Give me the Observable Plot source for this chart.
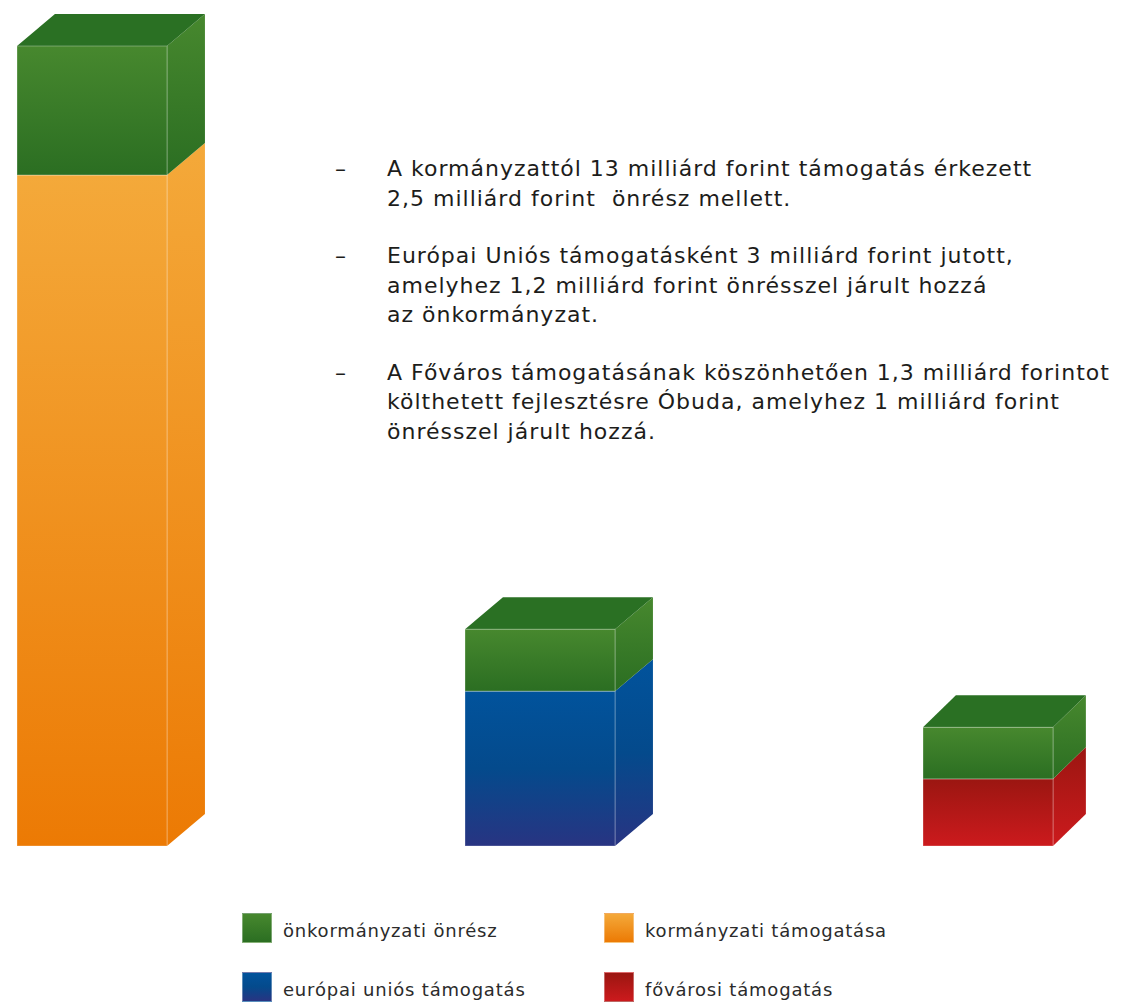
<!DOCTYPE html>
<html>
<head>
<meta charset="utf-8">
<script src="https://cdn.jsdelivr.net/npm/d3@7"></script>
<script src="https://cdn.jsdelivr.net/npm/@observablehq/plot@0.6"></script>
<style>
  html, body { margin: 0; padding: 0; background: #fff; }
  #wrap { position: relative; width: 1122px; height: 1002px; overflow: hidden; font-family: "DejaVu Sans", sans-serif; color: #1d1d1b; }
  #chart { position: absolute; left: 0; top: 0; }
  #notes { position: absolute; left: 335px; top: 154px; font-size: 22px; line-height: 29.5px; letter-spacing: 1px; white-space: nowrap; }
  #notes .p { display: flex; margin-bottom: 28px; }
  #notes .d { width: 52px; flex: none; letter-spacing: 0; }
  #legend { position: absolute; left: 242px; top: 913px; font-size: 18px; color: #2b2b2b; letter-spacing: 0.8px; }
  #legend .item { position: absolute; display: flex; align-items: center; white-space: nowrap; }
  #legend .item span { padding-top: 5px; }
  #legend .sw { width: 30px; height: 30px; margin-right: 11px; box-sizing: border-box; border: 1px solid rgba(255,255,255,0.35); }
</style>
</head>
<body>
<div id="wrap">
  <div id="chart"></div>
  <div id="notes"></div>
  <div id="legend"></div>
</div>
<script>
// ---- data ----
const categories = ["kormányzati", "európai uniós", "fővárosi"];
const supportSeries = ["kormányzati támogatása", "európai uniós támogatás", "fővárosi támogatás"];
const supportValues = [13, 3, 1.3];
const ownSeries = "önkormányzati önrész";
const ownValues = [2.5, 1.2, 1];
const legendOrder = ["önkormányzati önrész", "kormányzati támogatása", "európai uniós támogatás", "fővárosi támogatás"];
const notes = [
  ["A kormányzattól 13 milliárd forint támogatás érkezett", "2,5 milliárd forint\u00a0 önrész mellett."],
  ["Európai Uniós támogatásként 3 milliárd forint jutott,", "amelyhez 1,2 milliárd forint önrésszel járult hozzá", "az önkormányzat."],
  ["A Főváros támogatásának köszönhetően 1,3 milliárd forintot", "költhetett fejlesztésre Óbuda, amelyhez 1 milliárd forint", "önrésszel járult hozzá."]
];

// gradient stops per series (top -> bottom)
const gradients = {
  "önkormányzati önrész": ["#47882e", "#2b6e22"],
  "kormányzati támogatása": ["#f4a93a", "#ec7a04"],
  "európai uniós támogatás": ["#01539c", "#044a8c", "#283482"],
  "fővárosi támogatás": ["#9b1611", "#cc1a1d"]
};
const topFaceColor = "#2a7023";

// table built from the arrays
const rows = [];
categories.forEach((c, i) => {
  rows.push({cat: c, series: supportSeries[i], value: supportValues[i]});
  rows.push({cat: c, series: ownSeries, value: ownValues[i]});
});
const gradId = s => "grad" + legendOrder.indexOf(s);

const narrowCat = categories[2];
const bandInset = c => c === narrowCat ? 10 : 0;

function faces(index, scales, values) {
  const g = d3.create("svg:g");
  const bw = scales.x.bandwidth();
  const topY = new Map();
  for (const i of index) {
    const yt = Math.min(values.y1[i], values.y2[i]);
    const c = rows[i].cat;
    if (!topY.has(c) || yt < topY.get(c).y) topY.set(c, {y: yt, i});
  }
  for (const i of index) {
    const inset = bandInset(rows[i].cat);
    const x1 = values.x[i] + inset, x2 = values.x[i] + bw - inset;
    const w = x2 - x1, dx = w * 0.253, dy = 32;
    const yt = Math.min(values.y1[i], values.y2[i]);
    const yb = Math.max(values.y1[i], values.y2[i]);
    g.append("path")
      .attr("d", `M${x2},${yt}L${x2 + dx},${yt - dy}L${x2 + dx},${yb - dy}L${x2},${yb}Z`)
      .attr("fill", values.fill[i]);
    if (topY.get(rows[i].cat).i === i) {
      g.append("path")
        .attr("d", `M${x1},${yt}L${x1 + dx},${yt - dy}L${x2 + dx},${yt - dy}L${x2},${yt}Z`)
        .attr("fill", topFaceColor);
    }
    g.append("line").attr("x1", x2).attr("x2", x2).attr("y1", yt).attr("y2", yb)
      .attr("stroke", "rgba(255,255,255,0.25)");
  }
  return g.node();
}

const common = {x: "cat", y: "value", fill: "series"};
const plot = Plot.plot({
  width: 1122,
  height: 870,
  marginTop: 46,
  marginBottom: 24,
  marginLeft: 16,
  marginRight: 59,
  x: {domain: categories, paddingInner: 0.6656, paddingOuter: 0, axis: null},
  y: {domain: [0, 15.5], axis: null},
  color: {domain: legendOrder, range: legendOrder.map(s => `url(#${gradId(s)})`)},
  marks: [
    Plot.barY(rows, {...common, render: faces}),
    Plot.barY(rows, {...common, filter: d => d.cat !== narrowCat, stroke: "white", strokeOpacity: 0.3, strokeWidth: 1}),
    Plot.barY(rows, {...common, filter: d => d.cat === narrowCat, insetLeft: 10, insetRight: 10, stroke: "white", strokeOpacity: 0.3, strokeWidth: 1})
  ]
});

const defs = d3.create("svg:defs");
for (const s of legendOrder) {
  const stops = gradients[s];
  const lg = defs.append("linearGradient").attr("id", gradId(s)).attr("x1", 0).attr("y1", 0).attr("x2", 0).attr("y2", 1);
  stops.forEach((c, k) => lg.append("stop").attr("offset", k / (stops.length - 1)).attr("stop-color", c));
}
plot.insertBefore(defs.node(), plot.firstChild);
document.getElementById("chart").appendChild(plot);

const notesEl = document.getElementById("notes");
for (const lines of notes) {
  const p = document.createElement("div"); p.className = "p";
  const d = document.createElement("div"); d.className = "d"; d.textContent = "–";
  const t = document.createElement("div"); t.innerHTML = lines.join("<br>");
  p.appendChild(d); p.appendChild(t); notesEl.appendChild(p);
}

const legendEl = document.getElementById("legend");
legendOrder.forEach((s, k) => {
  const it = document.createElement("div"); it.className = "item";
  it.style.left = (k % 2) * 362 + "px";
  it.style.top = Math.floor(k / 2) * 59 + "px";
  const sw = document.createElement("div"); sw.className = "sw";
  sw.style.background = `linear-gradient(to bottom, ${gradients[s].join(", ")})`;
  const tx = document.createElement("span"); tx.textContent = s;
  it.appendChild(sw); it.appendChild(tx); legendEl.appendChild(it);
});
</script>
</body>
</html>
